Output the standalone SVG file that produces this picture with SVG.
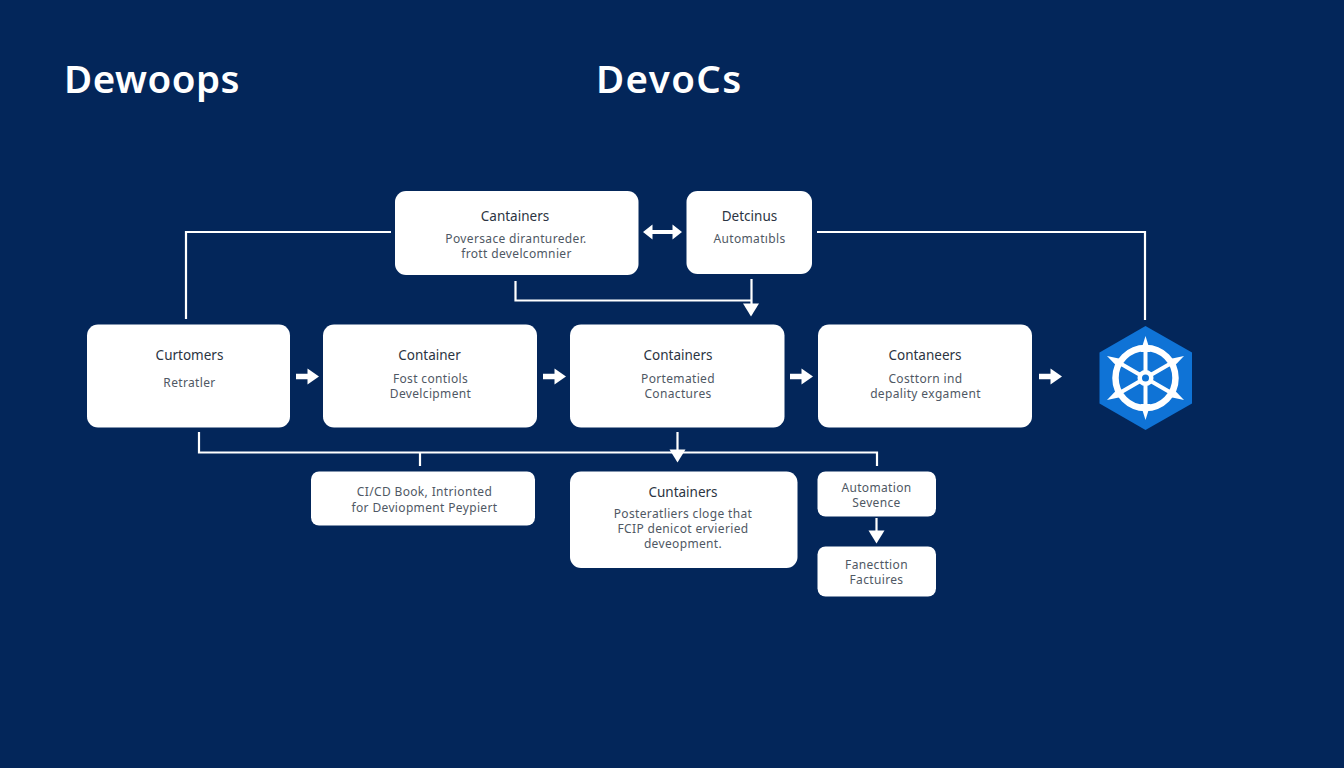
<svg xmlns="http://www.w3.org/2000/svg" width="1344" height="768" viewBox="0 0 1344 768">
<style>
.box{fill:#fff}
.t{font-family:"Noto Sans","Liberation Sans",sans-serif;text-anchor:middle}
.h{font-size:13.500px;fill:#2b3442}
.s{font-size:12px;fill:#4f5864;letter-spacing:.35px}
.title{font-family:"Noto Sans","Liberation Sans",sans-serif;font-size:38.500px;font-weight:600;fill:#fff}
.ln{fill:none;stroke:#fff;stroke-width:2.200}
.ar{fill:#fff}
</style>
<defs>
<path id="ra" d="M-11.500,-2.800H0V-8L11.500,0L0,8V2.800H-11.500Z"/>
<path id="da" d="M-8,-6.500H8L0,6.500Z"/>
</defs>
<rect width="1344" height="768" fill="#03265a"/>
<text class="title" x="64" y="93" letter-spacing="0.5">Dewoops</text>
<text class="title" x="596" y="93" letter-spacing="1.400">DevoCs</text>
<g id="connectors">
<path class="ln" d="M186 319V232H391"/>
<path class="ln" d="M817 232H1145V320"/>
<path class="ln" d="M515.500 281V300.500H751.500V306M751.500 279V306"/>
<path class="ln" d="M199 432V452.500H877V466M420 452.500V466M677.500 432V452"/>
<path class="ln" d="M876.500 518V536"/>
<use href="#da" class="ar" x="751" y="310"/>
<use href="#da" class="ar" x="677.500" y="456"/>
<use href="#da" class="ar" x="876.500" y="537"/>
<path class="ar" d="M643 232L652.500 224.500V230H672.500V224.500L682 232L672.500 239.500V234H652.500V239.500Z"/>
<use href="#ra" class="ar" x="307.500" y="376.500"/>
<use href="#ra" class="ar" x="554.500" y="376.500"/>
<use href="#ra" class="ar" x="801.500" y="376.500"/>
<use href="#ra" class="ar" x="1050.500" y="376.500"/>
</g>
<g id="node-top1"><rect class="box" x="395" y="191" width="243.500" height="84" rx="11"/>
<text class="t h" x="515" y="221">Cantainers</text><text class="t s" x="516" y="243">Poversace dirantureder.</text><text class="t s" x="516.500" y="258">frott develcomnier</text></g>
<g id="node-top2"><rect class="box" x="686.500" y="191" width="125.500" height="83" rx="11"/>
<text class="t h" x="749.500" y="221">Detcinus</text><text class="t s" x="749.500" y="243">Automatıbls</text></g>
<g id="node-r1"><rect class="box" x="87" y="324.500" width="203" height="103" rx="11"/>
<text class="t h" x="189.500" y="360">Curtomers</text><text class="t s" x="189.500" y="387">Retratler</text></g>
<g id="node-r2"><rect class="box" x="323" y="324.500" width="214" height="103" rx="11"/>
<text class="t h" x="429.500" y="360">Container</text><text class="t s" x="430.500" y="383">Fost contiols</text><text class="t s" x="430.500" y="398">Develcipment</text></g>
<g id="node-r3"><rect class="box" x="570" y="324.500" width="214.500" height="103" rx="11"/>
<text class="t h" x="678" y="360">Containers</text><text class="t s" x="678" y="383">Portematied</text><text class="t s" x="678" y="398">Conactures</text></g>
<g id="node-r4"><rect class="box" x="818" y="324.500" width="214" height="103" rx="11"/>
<text class="t h" x="925" y="360">Contaneers</text><text class="t s" x="925.500" y="383">Costtorn ind</text><text class="t s" x="925.500" y="398">depality exgament</text></g>
<g id="node-k8s">
<path d="M1145.500 326L1192 352.500V403.500L1145.500 430L1099.500 403.500V352.500Z" fill="#0f73d6"/>
<circle cx="1145.500" cy="378" r="30" fill="none" stroke="#fff" stroke-width="6.500"/>
<path stroke="#fff" stroke-width="4" fill="none" d="M1145.500 350V406M1121.300 364L1169.700 392M1121.300 392L1169.700 364"/>
<circle cx="1145.500" cy="378" r="8" fill="#fff"/>
<circle cx="1145.500" cy="378" r="3.500" fill="#0f73d6"/>
<g fill="#fff">
<path d="M1145.500 336L1150.500 352H1140.500Z"/><path d="M1145.500 420L1150.500 404H1140.500Z"/>
<path d="M1107 356L1123.500 359.500L1118.500 368Z"/><path d="M1184 356L1167.500 359.500L1172.500 368Z"/>
<path d="M1107 400L1123.500 396.500L1118.500 388Z"/><path d="M1184 400L1167.500 396.500L1172.500 388Z"/>
</g>
</g>
<g id="node-b1"><rect class="box" x="311" y="471.500" width="224" height="54" rx="8"/>
<text class="t s" x="424.500" y="496">CI/CD Book, Intrionted</text><text class="t s" x="424.500" y="512">for Deviopment Peypiert</text></g>
<g id="node-b2"><rect class="box" x="570" y="471.500" width="227.500" height="96.500" rx="11"/>
<text class="t h" x="683" y="497">Cuntainers</text><text class="t s" x="683" y="518">Posteratliers cloge that</text><text class="t s" x="683" y="533">FCIP denicot ervieried</text><text class="t s" x="683" y="548">deveopment.</text></g>
<g id="node-b3"><rect class="box" x="817.500" y="471.500" width="118.500" height="45" rx="8"/>
<text class="t s" x="876.500" y="491.500">Automation</text><text class="t s" x="876.500" y="506.500">Sevence</text></g>
<g id="node-b4"><rect class="box" x="817.500" y="546.500" width="118.500" height="50" rx="8"/>
<text class="t s" x="876.500" y="569">Fanecttion</text><text class="t s" x="876.500" y="584">Factuires</text></g>
</svg>
